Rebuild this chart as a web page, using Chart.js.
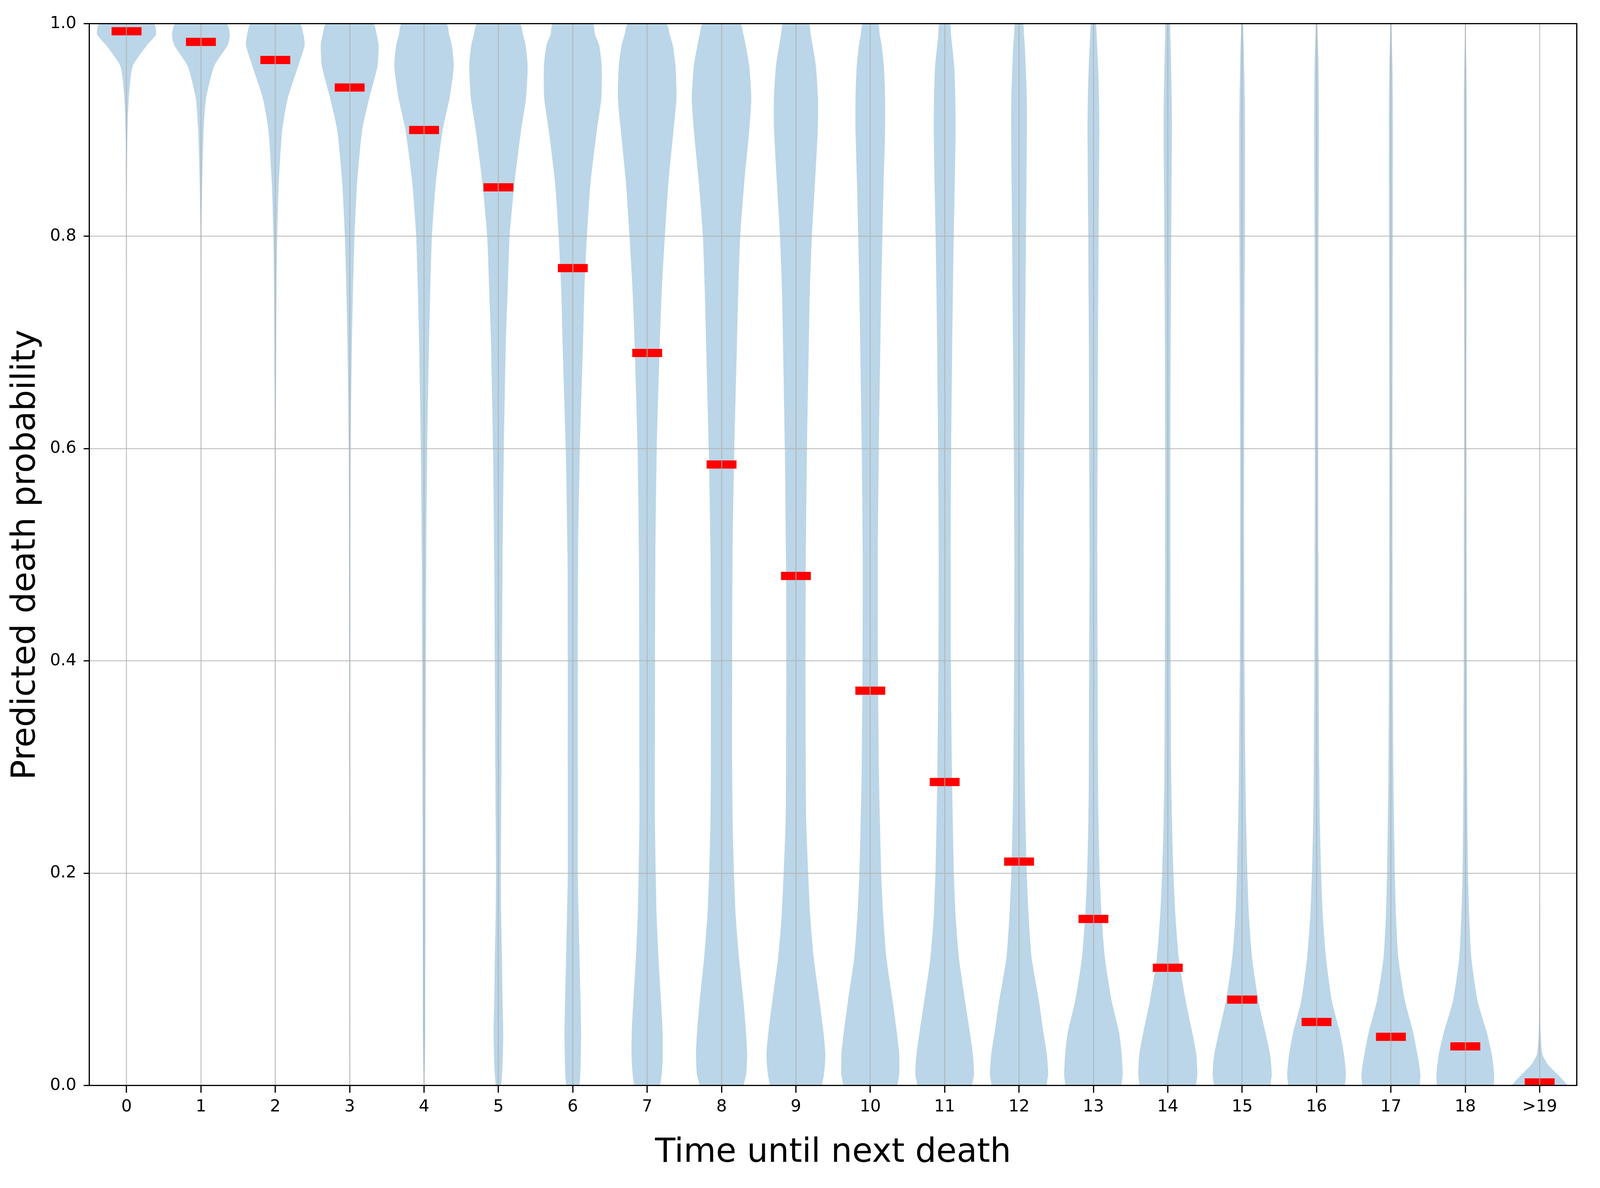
<!DOCTYPE html>
<html>
<head>
<meta charset="utf-8">
<script src="https://cdn.jsdelivr.net/npm/chart.js@4.4.1/dist/chart.umd.min.js"></script>
<style>
  html, body { margin: 0; padding: 0; width: 100%; height: 100%; background: #ffffff; overflow: hidden; }
  #box { position: relative; width: 100vw; height: 100vh; }
  canvas { display: block; }
</style>
</head>
<body>
<div id="box"><canvas id="violins"></canvas></div>
<script>
const categories = ['0', '1', '2', '3', '4', '5', '6', '7', '8', '9',
                    '10', '11', '12', '13', '14', '15', '16', '17', '18', '>19'];

// red bars, one per violin
const means = [0.993, 0.983, 0.966, 0.940, 0.900, 0.846, 0.770, 0.690, 0.585, 0.480,
               0.372, 0.286, 0.211, 0.157, 0.111, 0.081, 0.060, 0.046, 0.037, 0.003];

const yTicks = [0, 0.2, 0.4, 0.6, 0.8, 1.0];

const levels = [0, 0.01, 0.02, 0.03, 0.05, 0.08, 0.12, 0.16, 0.2, 0.25, 0.3, 0.4,
                0.5, 0.6, 0.7, 0.75, 0.8, 0.85, 0.9, 0.93, 0.96, 0.98, 0.99, 1.0];

// half width of each violin at those heights, in category units
const halfWidths = [
  [0, 0, 0, 0, 0, 0, 0, 0, 0, 0, 0, 0, 0, 0, 0, 0, 0.002, 0.004, 0.013, 0.03, 0.082, 0.276, 0.395, 0.367],
  [0, 0, 0, 0, 0, 0, 0, 0, 0, 0, 0, 0, 0.001, 0.002, 0.003, 0.004, 0.006, 0.017, 0.037, 0.069, 0.177, 0.36, 0.389, 0.343],
  [0.001, 0.001, 0.001, 0.001, 0.001, 0.001, 0.001, 0.001, 0.001, 0.001, 0.001, 0.002, 0.004, 0.006, 0.013, 0.017, 0.026, 0.047, 0.093, 0.168, 0.307, 0.395, 0.378, 0.33],
  [0.003, 0.003, 0.003, 0.003, 0.004, 0.004, 0.004, 0.005, 0.005, 0.006, 0.006, 0.008, 0.009, 0.013, 0.03, 0.045, 0.065, 0.1, 0.168, 0.263, 0.374, 0.389, 0.363, 0.318],
  [0.004, 0.008, 0.011, 0.013, 0.017, 0.017, 0.018, 0.019, 0.019, 0.02, 0.022, 0.026, 0.03, 0.043, 0.067, 0.084, 0.106, 0.158, 0.25, 0.343, 0.4, 0.374, 0.337, 0.302],
  [0.037, 0.048, 0.056, 0.06, 0.065, 0.056, 0.048, 0.037, 0.032, 0.037, 0.041, 0.048, 0.057, 0.073, 0.1, 0.125, 0.151, 0.216, 0.305, 0.371, 0.393, 0.365, 0.33, 0.287],
  [0.091, 0.1, 0.105, 0.108, 0.112, 0.104, 0.091, 0.078, 0.067, 0.067, 0.067, 0.067, 0.071, 0.095, 0.138, 0.156, 0.19, 0.238, 0.324, 0.384, 0.389, 0.354, 0.298, 0.268],
  [0.174, 0.195, 0.205, 0.21, 0.208, 0.186, 0.152, 0.127, 0.115, 0.104, 0.104, 0.106, 0.111, 0.129, 0.17, 0.197, 0.238, 0.285, 0.355, 0.394, 0.382, 0.344, 0.303, 0.258],
  [0.294, 0.33, 0.34, 0.344, 0.33, 0.294, 0.235, 0.19, 0.167, 0.149, 0.143, 0.143, 0.148, 0.172, 0.208, 0.226, 0.251, 0.305, 0.373, 0.4, 0.373, 0.324, 0.294, 0.251],
  [0.348, 0.376, 0.39, 0.396, 0.371, 0.317, 0.24, 0.192, 0.165, 0.138, 0.133, 0.129, 0.134, 0.149, 0.174, 0.188, 0.215, 0.256, 0.294, 0.296, 0.269, 0.224, 0.199, 0.172],
  [0.362, 0.389, 0.392, 0.389, 0.357, 0.3, 0.217, 0.174, 0.147, 0.129, 0.115, 0.104, 0.102, 0.115, 0.136, 0.147, 0.163, 0.179, 0.199, 0.199, 0.183, 0.152, 0.127, 0.102],
  [0.367, 0.394, 0.39, 0.378, 0.339, 0.274, 0.192, 0.147, 0.124, 0.109, 0.097, 0.084, 0.081, 0.088, 0.102, 0.111, 0.122, 0.136, 0.147, 0.143, 0.129, 0.1, 0.085, 0.07],
  [0.367, 0.391, 0.385, 0.373, 0.328, 0.267, 0.17, 0.129, 0.104, 0.086, 0.075, 0.066, 0.063, 0.07, 0.081, 0.088, 0.093, 0.1, 0.106, 0.104, 0.09, 0.077, 0.066, 0.054],
  [0.376, 0.394, 0.388, 0.38, 0.345, 0.245, 0.155, 0.111, 0.084, 0.068, 0.061, 0.057, 0.052, 0.057, 0.061, 0.066, 0.07, 0.075, 0.079, 0.075, 0.063, 0.05, 0.043, 0.032],
  [0.379, 0.397, 0.393, 0.383, 0.33, 0.24, 0.148, 0.103, 0.076, 0.056, 0.045, 0.039, 0.036, 0.035, 0.039, 0.043, 0.047, 0.051, 0.056, 0.053, 0.045, 0.039, 0.034, 0.029],
  [0.379, 0.397, 0.39, 0.374, 0.313, 0.218, 0.134, 0.091, 0.07, 0.053, 0.043, 0.031, 0.027, 0.027, 0.031, 0.033, 0.037, 0.039, 0.039, 0.035, 0.027, 0.021, 0.016, 0.012],
  [0.381, 0.395, 0.385, 0.368, 0.315, 0.205, 0.128, 0.084, 0.062, 0.045, 0.037, 0.029, 0.025, 0.023, 0.025, 0.026, 0.027, 0.031, 0.033, 0.031, 0.027, 0.019, 0.014, 0.01],
  [0.387, 0.397, 0.38, 0.355, 0.3, 0.188, 0.1, 0.068, 0.053, 0.041, 0.033, 0.025, 0.022, 0.021, 0.023, 0.024, 0.025, 0.026, 0.027, 0.025, 0.021, 0.014, 0.011, 0.008],
  [0.383, 0.389, 0.375, 0.355, 0.29, 0.165, 0.082, 0.053, 0.037, 0.029, 0.025, 0.021, 0.019, 0.016, 0.016, 0.017, 0.019, 0.019, 0.019, 0.019, 0.014, 0.008, 0.006, 0.004],
  [0.38, 0.25, 0.11, 0.035, 0.012, 0.006, 0.003, 0.002, 0, 0, 0, 0, 0, 0, 0, 0, 0, 0, 0, 0, 0, 0, 0, 0]
];

// sizes below were measured on the 5299 x 3041 picture; scale them to the page
const kx = window.innerWidth / 5299;
const ky = window.innerHeight / 3041;
const k = Math.min(kx, ky);

const violinFill = 'rgba(31, 119, 180, 0.3)';
const gridColor = 'rgba(176, 176, 176, 0.65)';
const tickFont = { family: 'DejaVu Sans', size: 55 * k };
const titleFont = { family: 'DejaVu Sans', size: 110 * k, lineHeight: 1 };
const lw = 4 * k;

Chart.defaults.font.family = 'DejaVu Sans';

// each violin is a closed outline: up the right side, back down the left
const violinSets = halfWidths.map(function (w, i) {
  const right = levels.map((y, j) => ({ x: i + w[j], y: y }));
  const left = levels.map((y, j) => ({ x: i - w[j], y: y })).reverse();
  return {
    data: right.concat(left),
    showLine: true,
    fill: 'shape',
    backgroundColor: violinFill,
    borderWidth: 0,
    pointRadius: 0,
    tension: 0.2,
    clip: 0
  };
});

const meanSet = {
  data: means.map((m, i) => ({ x: i, y: m })),
  showLine: false,
  pointStyle: 'line',
  pointRadius: 49.5 * kx,
  pointBorderWidth: 21 * ky,
  pointBorderColor: '#ff0000',
  pointBackgroundColor: '#ff0000',
  clip: 0
};

const frame = { color: '#000000', width: lw, z: 2 };

const config = {
  type: 'scatter',
  data: { datasets: [meanSet].concat(violinSets) },
  options: {
    responsive: true,
    maintainAspectRatio: false,
    animation: false,
    events: [],
    layout: { padding: { left: 0, top: 61 * ky, right: 44 * kx, bottom: 0 } },
    plugins: {
      legend: { display: false },
      tooltip: { enabled: false }
    },
    scales: {
      x: {
        type: 'linear',
        min: -0.5,
        max: 19.5,
        afterBuildTicks: function (s) { s.ticks = categories.map((c, i) => ({ value: i })); },
        afterFit: function (s) { s.height = 262 * ky; },
        ticks: {
          callback: (v) => categories[Math.round(v)],
          font: tickFont,
          color: '#000000',
          padding: 11 * ky,
          maxRotation: 0,
          autoSkip: false
        },
        grid: { color: gridColor, lineWidth: lw, tickColor: '#000000', tickWidth: lw, tickLength: 18 * ky, z: 1 },
        border: frame,
        title: {
          display: true,
          text: 'Time until next death',
          font: titleFont,
          color: '#000000',
          padding: { top: 0, bottom: 47 * ky }
        }
      },
      y: {
        type: 'linear',
        min: 0,
        max: 1,
        afterBuildTicks: function (s) { s.ticks = yTicks.map((v) => ({ value: v })); },
        afterFit: function (s) { s.width = 296 * kx; },
        ticks: {
          callback: (v) => v.toFixed(1),
          font: tickFont,
          color: '#000000',
          padding: 24 * kx
        },
        grid: { color: gridColor, lineWidth: lw, tickColor: '#000000', tickWidth: lw, tickLength: 19 * kx, z: 1 },
        border: frame,
        title: {
          display: true,
          text: 'Predicted death probability',
          font: titleFont,
          color: '#000000',
          padding: { top: 31 * kx, bottom: 0 }
        }
      },
      x2: {
        type: 'linear',
        position: 'top',
        min: -0.5,
        max: 19.5,
        afterFit: function (s) { s.height = 0; },
        ticks: { display: false },
        grid: { display: false, drawTicks: false },
        border: frame
      },
      y2: {
        type: 'linear',
        position: 'right',
        min: 0,
        max: 1,
        afterFit: function (s) { s.width = 0; },
        ticks: { display: false },
        grid: { display: false, drawTicks: false },
        border: frame
      }
    }
  }
};

const chart = new Chart(document.getElementById('violins'), config);
</script>
</body>
</html>
